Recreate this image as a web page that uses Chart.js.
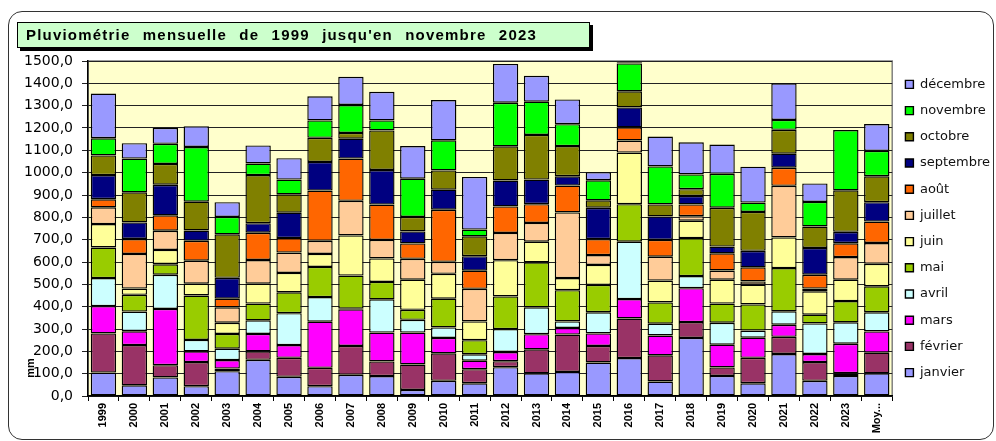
<!DOCTYPE html>
<html>
<head>
<meta charset="utf-8">
<script src="https://cdn.jsdelivr.net/npm/chart.js@4"></script>
<style>
  html, body { margin: 0; padding: 0; background: #fff; }
  #wrap { position: relative; width: 996px; height: 441px; }
  #cadre { position: absolute; left: 8px; top: 11px; width: 984px; height: 427px;
           border: 1px solid #333; border-radius: 14px; pointer-events: none; }
  #titre { position: absolute; left: 17px; top: 22px; width: 563px; height: 24px;
           background: #ccffcc; border: 1px solid #000; box-shadow: 3px 3px 0 #000;
           font: bold 15px "Liberation Sans", Arial, sans-serif; line-height: 24px;
           padding-left: 8px; box-sizing: content-box; white-space: nowrap;
           letter-spacing: 1.2px; word-spacing: 7px; }
</style>
</head>
<body>
<div id="wrap">
  <canvas id="myChart"></canvas>
  <div id="cadre"></div>
  <div id="titre">Pluviométrie mensuelle de 1999 jusqu'en novembre 2023</div>
</div>
<script>
// années + moyenne
const annees = ['1999','2000','2001','2002','2003','2004','2005','2006','2007','2008','2009','2010',
  '2011','2012','2013','2014','2015','2016','2017','2018','2019','2020','2021','2022','2023','Moy...'];

// pluie en mm par mois
const janvier   = [105, 48, 83, 44, 111, 162, 86, 44, 95, 89, 27, 68, 57, 129, 101, 108, 150, 170, 65, 260, 90, 57, 188, 68, 90, 101];
const fevrier   = [175, 180, 55, 108, 12, 38, 85, 82, 129, 66, 114, 123, 63, 27, 108, 167, 74, 177, 117, 71, 38, 114, 77, 84, 12, 93];
const mars      = [122, 62, 252, 48, 38, 78, 57, 207, 164, 129, 143, 69, 38, 41, 68, 30, 56, 87, 89, 152, 102, 90, 54, 36, 132, 95];
const avril     = [126, 88, 153, 51, 51, 61, 143, 110, 3, 149, 57, 47, 29, 102, 120, 29, 95, 257, 53, 54, 98, 32, 60, 137, 96, 86];
const mai       = [137, 75, 47, 199, 66, 75, 93, 135, 148, 78, 45, 129, 63, 147, 201, 140, 123, 168, 95, 170, 86, 117, 194, 39, 95, 116];
const juin      = [105, 28, 64, 53, 50, 89, 87, 58, 180, 105, 135, 111, 84, 162, 93, 54, 89, 231, 98, 78, 107, 89, 137, 105, 96, 101];
const juillet   = [75, 155, 86, 103, 69, 106, 91, 59, 155, 83, 93, 54, 146, 122, 84, 294, 44, 54, 107, 20, 41, 14, 231, 12, 101, 93];
const aout      = [36, 67, 69, 89, 39, 122, 65, 225, 189, 158, 69, 233, 81, 119, 84, 120, 71, 59, 75, 53, 77, 63, 81, 62, 62, 96];
const septembre = [108, 74, 137, 46, 93, 43, 114, 128, 89, 155, 54, 90, 65, 116, 110, 42, 141, 89, 105, 38, 30, 74, 63, 120, 51, 87];
const octobre   = [88, 135, 93, 129, 195, 215, 82, 108, 26, 177, 65, 86, 89, 153, 200, 135, 33, 72, 54, 30, 174, 174, 107, 96, 186, 116];
const novembre  = [77, 151, 90, 245, 78, 52, 66, 78, 125, 45, 171, 135, 30, 195, 149, 98, 90, 125, 170, 66, 152, 42, 44, 110, 270, 114];
const decembre  = [200, 69, 72, 93, 66, 81, 96, 108, 126, 128, 146, 180, 236, 174, 116, 111, 36, 5, 134, 144, 131, 161, 164, 83, 0, 120];

const mois = [
  ['janvier', janvier, '#9999ff'],
  ['février', fevrier, '#993366'],
  ['mars', mars, '#ff00ff'],
  ['avril', avril, '#ccffff'],
  ['mai', mai, '#99cc00'],
  ['juin', juin, '#ffff99'],
  ['juillet', juillet, '#ffcc99'],
  ['août', aout, '#ff6600'],
  ['septembre', septembre, '#000080'],
  ['octobre', octobre, '#808000'],
  ['novembre', novembre, '#00ff00'],
  ['décembre', decembre, '#9999ff'],
];

const datasets = mois.map(m => ({
  label: m[0],
  data: m[1],
  backgroundColor: m[2],
  borderColor: '#000',
  borderWidth: 1.4,
  borderSkipped: false,
  inflateAmount: 0,
  barPercentage: 0.82,
  categoryPercentage: 1
}));

// fond jaune de la zone de tracé
const fondZone = {
  id: 'fondZone',
  beforeDraw(chart) {
    const {ctx, chartArea: a} = chart;
    ctx.save();
    ctx.fillStyle = '#ffffcc';
    ctx.fillRect(a.left, a.top, a.right - a.left, a.bottom - a.top);
    ctx.strokeStyle = '#808080';
    ctx.lineWidth = 1.5;
    ctx.strokeRect(a.left, a.top, a.right - a.left, a.bottom - a.top);
    ctx.restore();
  }
};

Chart.defaults.font.family = '"Liberation Sans", Arial, sans-serif';
Chart.defaults.color = '#000';

const ctx = document.getElementById('myChart');
new Chart(ctx, {
  type: 'bar',
  data: { labels: annees, datasets: datasets },
  plugins: [fondZone],
  options: {
    responsive: true,
    maintainAspectRatio: false,
    animation: false,
    layout: { padding: { left: 10, top: 61, right: -4, bottom: 0 } },
    plugins: {
      legend: {
        position: 'right',
        reverse: true,
        fullSize: false,
        labels: {
          boxWidth: 8,
          boxHeight: 8,
          padding: 13.2,
          font: { family: '"DejaVu Sans", sans-serif', size: 13 },
          color: '#111'
        }
      },
      tooltip: { enabled: false }
    },
    scales: {
      x: {
        stacked: true,
        afterFit: s => { s.height = 45; },
        grid: { drawOnChartArea: false, tickLength: 5, color: '#000' },
        border: { color: '#000', width: 1.5 },
        ticks: {
          autoSkip: false,
          maxRotation: 90,
          minRotation: 90,
          padding: 2,
          font: { size: 11, weight: 'bold' }
        }
      },
      y: {
        stacked: true,
        min: 0,
        max: 1500,
        afterFit: s => { s.width = 78; },
        grid: { color: '#222', tickLength: 6 },
        border: { color: '#000', width: 1.5 },
        ticks: {
          stepSize: 100,
          padding: 9,
          font: { family: '"DejaVu Sans", sans-serif', size: 14 },
          callback: v => v.toFixed(1).replace('.', ',')
        },
        title: {
          display: true,
          text: '      mm',
          align: 'start',
          padding: 14,
          font: { size: 11, weight: 'bold' }
        }
      }
    }
  }
});
</script>
</body>
</html>
